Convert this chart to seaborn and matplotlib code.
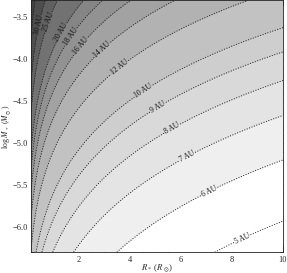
import numpy as np
import matplotlib
matplotlib.use("Agg")
import matplotlib.pyplot as plt
import seaborn as sns

sns.set_theme(style="ticks")
plt.rcParams["font.family"] = ["Liberation Serif", "DejaVu Serif"]
plt.rcParams["mathtext.fontset"] = "stix"

# contour levels (AU)
levels = [5, 6, 7, 8, 9, 10, 12, 14, 16, 18, 20, 25, 30]
extra_levels = [40, 50]

label_R = [0.45, 0.90, 1.29, 1.69, 2.16, 2.71, 3.49, 4.51, 5.10, 5.65, 6.27, 7.14, 8.39]
label_logM = [-3.595, -3.571, -3.679, -3.738, -3.857, -3.82, -4.06, -4.37, -4.57, -4.82, -5.18, -5.595, -6.13]
label_level = [30, 25, 20, 18, 16, 14, 12, 10, 9, 8, 7, 6, 5]

# further points
upper_R = [0.671, 0.231, 1.15, 0.655, 1.61, 0.98, 2.02, 1.35, 2.53, 1.78, 3.14, 2.27, 3.95, 3.03, 5.0, 4.02]
upper_logM = [-3.43, -3.761, -3.41, -3.733, -3.527, -3.83, -3.592, -3.885, -3.72, -3.994,
              -3.762, -4.0, -3.962, -4.181, -4.271, -4.467]
upper_level = [30, 30, 25, 25, 20, 20, 18, 18, 16, 16, 14, 14, 12, 12, 10, 10]

right_logM = [-3.667, -3.988, -4.345, -4.786, -5.298, -5.881]   # at R_* = 10
right_level = [10, 9, 8, 7, 6, 5]
bottom_R = [6.86, 3.2, 1.71, 0.99, 0.59, 0.35]                  # at log Mdot = -6.3
bottom_level = [5, 6, 7, 8, 9, 10]
top_R = [7.92, 5.1]                                              # at log Mdot = -3.31
top_level = [12, 14]

# smooth surface through the read contour positions
R_all = np.array(label_R + upper_R + [10.0] * len(right_logM) + bottom_R + top_R)
M_all = np.array(label_logM + upper_logM + right_logM + [-6.3] * len(bottom_R) + [-3.31] * len(top_R))
D_all = np.array(label_level + upper_level + right_level + bottom_level + top_level, dtype=float)
L = np.log10(R_all)
A = np.column_stack([np.ones_like(L), M_all, L, M_all * L, M_all ** 2, L ** 2])
coef, *_ = np.linalg.lstsq(A, np.log10(D_all), rcond=None)

xr = np.linspace(0.1, 10, 400)
yr = np.linspace(-6.3, -3.3, 400)
X, Y = np.meshgrid(xr, yr)
LX = np.log10(X)
Z = 10 ** (coef[0] + coef[1] * Y + coef[2] * LX + coef[3] * Y * LX
           + coef[4] * Y ** 2 + coef[5] * LX ** 2)

fill_levels = [0] + levels + extra_levels + [1e5]
band_colors = ["#ffffff", "#ffffff", "#efefef", "#e4e4e4", "#d9d9d9", "#cecece",
               "#c2c2c2", "#b2b2b2", "#a2a2a2", "#929292", "#858585", "#727272",
               "#606060", "#4e4e4e", "#424242", "#383838"]

fig = plt.figure(figsize=(2.87, 2.73), dpi=100)
ax = fig.add_axes([0.1063, 0.0762, 0.8797, 0.922])
ax.contourf(X, Y, Z, levels=fill_levels, colors=band_colors)
cs = ax.contour(X, Y, Z, levels=levels + extra_levels, colors="#222222",
                linestyles=":", linewidths=0.7)
manual_pos = list(zip(label_R, label_logM))
ax.clabel(cs, levels=levels, fmt=lambda v: f"{v:g} AU", fontsize=5.5,
          manual=manual_pos, inline=True, inline_spacing=1, colors="#111111")

ax.set_xlim(0.1, 10)
ax.set_ylim(-6.3, -3.3)
ax.set_xticks([2, 4, 6, 8, 10])
ax.set_yticks([-6.0, -5.5, -5.0, -4.5, -4.0, -3.5])
ax.xaxis.set_minor_locator(matplotlib.ticker.MultipleLocator(0.5))
ax.yaxis.set_minor_locator(matplotlib.ticker.MultipleLocator(0.1))
ax.tick_params(which="both", direction="in", top=True, right=True, labelsize=6,
               color="#222222", width=0.5, pad=2.5)
ax.tick_params(axis="y", which="major", pad=1.5)
ax.tick_params(which="major", length=4)
ax.tick_params(which="minor", length=2)
for s in ax.spines.values():
    s.set_linewidth(0.6)
    s.set_color("#222222")
ax.set_xlabel(r"$R_*$ ($R_\odot$)", fontsize=6.3)
ax.set_ylabel(r"log $\dot{M}_*$ ($M_\odot$)", fontsize=5.6)
ax.xaxis.set_label_coords(0.5, -0.04)
ax.yaxis.set_label_coords(-0.069, 0.5)

fig.savefig("out.png", dpi=100)
